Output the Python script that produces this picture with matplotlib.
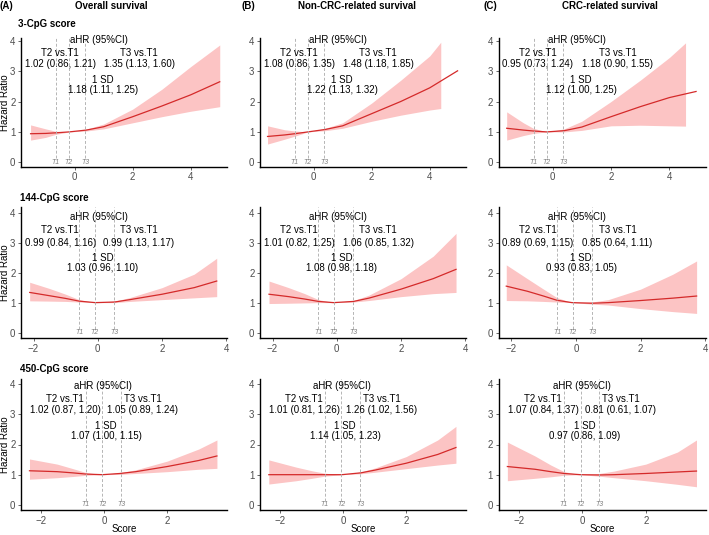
import matplotlib
matplotlib.use("Agg")
import matplotlib.pyplot as plt
import matplotlib.transforms as mtrans

plt.rcParams['font.family'] = ['Liberation Sans', 'DejaVu Sans']

W, H = 709, 535

outcomes = ["Overall survival", "Non-CRC-related survival", "CRC-related survival"]
tags = ["(A)", "(B)", "(C)"]
scores = ["3-CpG score", "144-CpG score", "450-CpG score"]

# aHR (95%CI) annotations, [row][col]
t2_txt = [["1.02 (0.86, 1.21)", "1.08 (0.86, 1.35)", "0.95 (0.73, 1.24)"],
          ["0.99 (0.84, 1.16)", "1.01 (0.82, 1.25)", "0.89 (0.69, 1.15)"],
          ["1.02 (0.87, 1.20)", "1.01 (0.81, 1.26)", "1.07 (0.84, 1.37)"]]
t3_txt = [["1.35 (1.13, 1.60)", "1.48 (1.18, 1.85)", "1.18 (0.90, 1.55)"],
          ["0.99 (1.13, 1.17)", "1.06 (0.85, 1.32)", "0.85 (0.64, 1.11)"],
          ["1.05 (0.89, 1.24)", "1.26 (1.02, 1.56)", "0.81 (0.61, 1.07)"]]
sd_txt = [["1.18 (1.11, 1.25)", "1.22 (1.13, 1.32)", "1.12 (1.00, 1.25)"],
          ["1.03 (0.96, 1.10)", "1.08 (0.98, 1.18)", "0.93 (0.83, 1.05)"],
          ["1.07 (1.00, 1.15)", "1.14 (1.05, 1.23)", "0.97 (0.86, 1.09)"]]

# tertile cut points per row
tert = [[-0.65, -0.2, 0.36], [-0.58, -0.1, 0.51], [-0.59, -0.06, 0.53]]

# curves: x, HR, lower, upper  ([row][col])
x_line = [[[-1.52, -1.0, -0.65, -0.19, 0.4, 1.0, 2.0, 3.0, 4.0, 5.0],
           [-1.59, -1.0, -0.65, -0.2, 0.4, 1.0, 2.0, 3.0, 4.0, 4.96],
           [-1.57, -1.0, -0.66, -0.2, 0.4, 1.0, 2.0, 3.0, 4.0, 4.91]],
          [[-2.12, -1.5, -1.0, -0.58, -0.08, 0.52, 1.0, 2.0, 3.0, 3.7],
           [-2.11, -1.5, -1.0, -0.57, -0.1, 0.52, 1.0, 2.0, 3.0, 3.71],
           [-2.15, -1.5, -1.0, -0.59, -0.12, 0.5, 1.0, 2.0, 3.0, 3.73]],
          [[-2.38, -1.5, -1.0, -0.58, -0.06, 0.5, 1.0, 2.0, 3.0, 3.58],
           [-2.37, -1.5, -1.0, -0.6, -0.05, 0.55, 1.0, 2.0, 3.0, 3.58],
           [-2.37, -1.5, -1.0, -0.58, -0.06, 0.53, 1.0, 2.0, 3.0, 3.6]]]
hr = [[[0.94, 0.95, 0.97, 1.0, 1.06, 1.17, 1.5, 1.85, 2.22, 2.65],
       [0.85, 0.9, 0.94, 1.0, 1.08, 1.2, 1.6, 2.0, 2.45, 3.01],
       [1.12, 1.06, 1.03, 1.0, 1.04, 1.16, 1.5, 1.83, 2.13, 2.33]],
      [[1.34, 1.23, 1.14, 1.05, 1.0, 1.02, 1.1, 1.28, 1.5, 1.72],
       [1.28, 1.2, 1.12, 1.04, 1.0, 1.04, 1.15, 1.45, 1.8, 2.11],
       [1.55, 1.38, 1.22, 1.08, 1.0, 0.98, 1.0, 1.07, 1.15, 1.22]],
      [[1.13, 1.1, 1.06, 1.02, 1.0, 1.04, 1.1, 1.27, 1.47, 1.62],
       [1.0, 1.0, 1.0, 1.0, 1.0, 1.06, 1.15, 1.38, 1.67, 1.9],
       [1.27, 1.18, 1.1, 1.04, 1.0, 0.99, 1.0, 1.04, 1.09, 1.12]]]
x_band = [[[-1.52, -1.0, -0.65, -0.19, 0.4, 1.0, 2.0, 3.0, 4.0, 5.0],
           [-1.59, -1.0, -0.65, -0.2, 0.4, 1.0, 2.0, 3.0, 4.0, 4.38],
           [-1.57, -1.0, -0.66, -0.2, 0.4, 1.0, 2.0, 3.0, 4.0, 4.55]],
          x_line[1], x_line[2]]
lo = [[[0.73, 0.82, 0.92, 1.0, 1.03, 1.1, 1.3, 1.5, 1.68, 1.83],
       [0.6, 0.76, 0.86, 1.0, 1.04, 1.12, 1.35, 1.55, 1.72, 1.77],
       [0.73, 0.88, 0.95, 1.0, 1.0, 1.05, 1.2, 1.22, 1.2, 1.19]],
      [[1.06, 1.05, 1.04, 1.02, 1.0, 1.0, 1.04, 1.1, 1.16, 1.2],
       [0.97, 0.98, 0.99, 1.0, 1.0, 1.02, 1.07, 1.2, 1.3, 1.34],
       [1.07, 1.06, 1.04, 1.02, 1.0, 0.95, 0.92, 0.8, 0.7, 0.64]],
      [[0.85, 0.9, 0.94, 0.98, 1.0, 1.01, 1.04, 1.1, 1.18, 1.21],
       [0.69, 0.8, 0.88, 0.95, 1.0, 1.03, 1.08, 1.2, 1.32, 1.38],
       [0.8, 0.88, 0.93, 0.98, 1.0, 0.95, 0.9, 0.8, 0.68, 0.6]]]
hi = [[[1.23, 1.1, 1.02, 1.0, 1.09, 1.26, 1.75, 2.4, 3.15, 3.86],
       [1.2, 1.07, 1.03, 1.0, 1.12, 1.3, 1.95, 2.7, 3.5, 3.95],
       [1.66, 1.3, 1.12, 1.0, 1.1, 1.35, 2.0, 2.7, 3.45, 3.93]],
      [[1.68, 1.47, 1.28, 1.1, 1.0, 1.05, 1.17, 1.5, 1.95, 2.48],
       [1.72, 1.5, 1.3, 1.1, 1.0, 1.07, 1.25, 1.8, 2.55, 3.31],
       [2.26, 1.8, 1.45, 1.17, 1.0, 1.02, 1.1, 1.45, 1.95, 2.39]],
      [[1.52, 1.35, 1.2, 1.07, 1.0, 1.07, 1.16, 1.45, 1.85, 2.15],
       [1.49, 1.25, 1.13, 1.05, 1.0, 1.09, 1.22, 1.6, 2.15, 2.6],
       [2.08, 1.62, 1.32, 1.1, 1.0, 1.04, 1.12, 1.35, 1.75, 2.15]]]

xlims = [(-1.85, 5.25), (-2.39, 4.02), (-2.65, 3.9)]
ylims = [(-0.145, 4.08), (-0.19, 4.18), (-0.17, 4.17)]
xticks = [[0, 2, 4], [-2, 0, 2, 4], [-2, 0, 2]]

# layout in pixels
cols_px = [(21, 227), (260, 466), (498.5, 706)]
rows_px = [(38.3, 166.7), (207.3, 338.3), (379, 510)]
txt_x = [[0.38, 0.19, 0.573, 0.398], [0.38, 0.19, 0.573, 0.398], [0.40, 0.215, 0.59, 0.414]]
txt_y = [[4.02, 3.6, 3.23, 2.7, 2.37], [3.85, 3.42, 3.0, 2.5, 2.15], [3.94, 3.51, 3.15, 2.62, 2.28]]

fig = plt.figure(figsize=(W / 100, H / 100), dpi=100)

line_col = "#d42a2a"
band_col = "#fcc4c4"
tick_col = "#4d4d4d"
fs = 7

for r in range(3):
    for c in range(3):
        l, rr = cols_px[c]
        t, b = rows_px[r]
        ax = fig.add_axes([l / W, 1 - b / H, (rr - l) / W, (b - t) / H])
        ax.fill_between(x_band[r][c], lo[r][c], hi[r][c], color=band_col, lw=0)
        ax.plot(x_line[r][c], hr[r][c], color=line_col, lw=0.9)
        for k, tv in enumerate(tert[r]):
            ax.plot([tv, tv], [0.13, ylims[r][1]], color="#b5b5b5", lw=0.7, ls=(0, (3, 2)))
            ax.text(tv, 0.0, "T%d" % (k + 1), ha="center", va="center", fontsize=5,
                    style="italic", color="#7f7f7f")
        blend = mtrans.blended_transform_factory(ax.transAxes, ax.transData)
        fx = txt_x[r]
        fy = txt_y[r]
        kw = dict(transform=blend, ha="center", va="center", fontsize=fs)
        ax.text(fx[0], fy[0], "aHR (95%CI)", **kw)
        ax.text(fx[1], fy[1], "T2 vs.T1", **kw)
        ax.text(fx[1], fy[2], t2_txt[r][c], **kw)
        ax.text(fx[2], fy[1], "T3 vs.T1", **kw)
        ax.text(fx[2], fy[2], t3_txt[r][c], **kw)
        ax.text(fx[3], fy[3], "1 SD", **kw)
        ax.text(fx[3], fy[4], sd_txt[r][c], **kw)

        ax.set_xlim(*xlims[r])
        ax.set_ylim(*ylims[r])
        ax.set_xticks(xticks[r])
        ax.set_xticklabels([("\u2212%d" % -v) if v < 0 else str(v) for v in xticks[r]])
        ax.set_yticks([0, 1, 2, 3, 4])
        for s in ["top", "right"]:
            ax.spines[s].set_visible(False)
        for s in ["left", "bottom"]:
            ax.spines[s].set_linewidth(1.0)
            ax.spines[s].set_color("black")
        ax.tick_params(labelsize=7, colors=tick_col, length=2, width=0.6, pad=2)

    fig.text(5 / W, 1 - ((rows_px[r][0] + rows_px[r][1]) / 2) / H, "Hazard Ratio",
             rotation=90, ha="center", va="center", fontsize=7)
    fig.text([18, 20, 20][r] / W, 1 - [24, 197.7, 369][r] / H, scores[r],
             ha="left", va="center", fontsize=7, fontweight="bold")

title_x = [111.7, 356.7, 610]
tag_x = [0, 241, 483]
for c in range(3):
    fig.text(tag_x[c] / W, 1 - 6 / H, tags[c], ha="left", va="center", fontsize=7, fontweight="bold")
    fig.text(title_x[c] / W, 1 - 6 / H, outcomes[c], ha="center", va="center",
             fontsize=7, fontweight="bold")
    fig.text((cols_px[c][0] + cols_px[c][1]) / 2 / W, 1 - 529 / H, "Score",
             ha="center", va="center", fontsize=7)

fig.savefig("out.png", dpi=100)
